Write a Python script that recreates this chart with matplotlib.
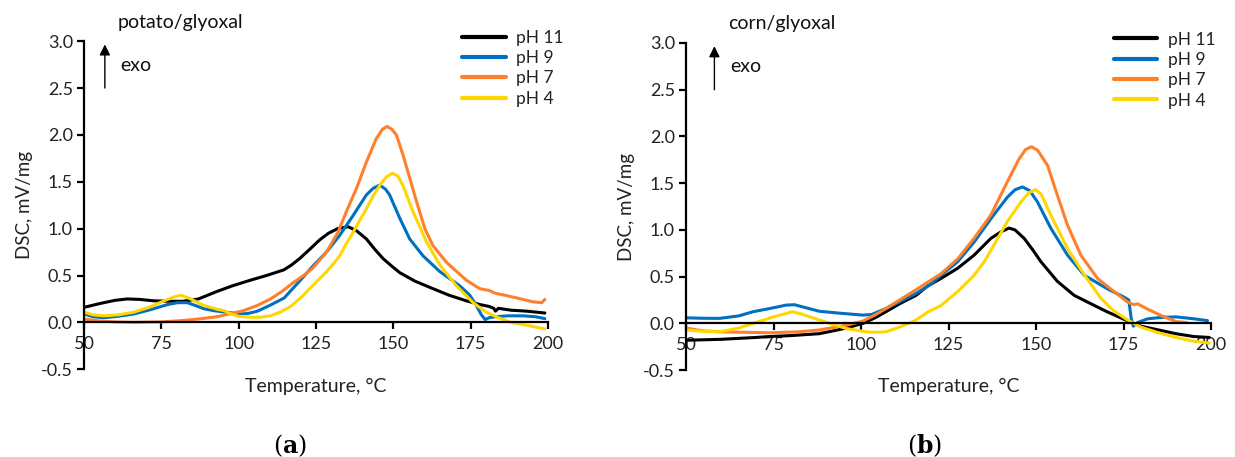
import matplotlib
matplotlib.use("Agg")
import matplotlib.pyplot as plt

plt.rcParams['font.family'] = ['Lato', 'DejaVu Sans']
plt.rcParams['mathtext.fontset'] = 'dejavuserif'

# ---- data: panel (a) potato/glyoxal ----
a_ph11_T = [50, 55, 60, 64, 68, 72.5, 78, 82, 87, 93, 98, 103.8, 109, 114.6, 117, 119.7, 123, 126.2, 129, 132, 135.4, 138, 141.3, 144, 146.7, 149.5, 152.1, 157, 162.8, 168, 173.6, 178, 181, 182.5, 183, 184, 188, 193, 199]
a_ph11_y = [0.16, 0.20, 0.235, 0.25, 0.245, 0.23, 0.225, 0.225, 0.25, 0.33, 0.39, 0.45, 0.50, 0.56, 0.61, 0.68, 0.78, 0.88, 0.95, 1.00, 1.02, 0.98, 0.89, 0.78, 0.68, 0.60, 0.53, 0.44, 0.36, 0.29, 0.23, 0.19, 0.17, 0.15, 0.12, 0.15, 0.13, 0.12, 0.10]

a_ph9_T = [50, 53, 56.5, 61, 66.2, 72, 77, 80.2, 83.4, 86, 88.8, 92, 95.3, 100.7, 103, 106.1, 110, 114.7, 119.7, 124, 128.4, 132.7, 137, 141.3, 143.5, 145.6, 147.5, 148.8, 152.1, 155.3, 159.6, 165.1, 171.5, 174.7, 176.5, 178.5, 179.7, 181, 183, 187, 192, 196, 199]
a_ph9_y = [0.09, 0.06, 0.05, 0.065, 0.09, 0.14, 0.19, 0.21, 0.21, 0.18, 0.145, 0.125, 0.11, 0.09, 0.095, 0.12, 0.18, 0.26, 0.44, 0.60, 0.75, 0.93, 1.14, 1.36, 1.43, 1.465, 1.42, 1.36, 1.11, 0.89, 0.71, 0.54, 0.39, 0.29, 0.20, 0.08, 0.03, 0.05, 0.06, 0.07, 0.07, 0.06, 0.04]

a_ph7_T = [50, 55, 60, 66, 75, 82, 88, 93, 97, 101.6, 106, 110.3, 114, 117.9, 121, 124, 128.4, 132.1, 134.8, 138.1, 141.3, 144.5, 146.5, 148, 149.5, 151, 153.1, 155.3, 157.5, 160.2, 162.8, 167.2, 173.6, 177.9, 181, 183, 186, 190, 195, 198, 199]
a_ph7_y = [0.036, 0.015, 0.005, 0.0, 0.005, 0.02, 0.04, 0.06, 0.09, 0.125, 0.18, 0.25, 0.33, 0.43, 0.50, 0.58, 0.75, 0.96, 1.18, 1.43, 1.71, 1.96, 2.06, 2.09, 2.06, 2.00, 1.79, 1.54, 1.29, 1.00, 0.82, 0.64, 0.45, 0.36, 0.34, 0.31, 0.29, 0.26, 0.22, 0.21, 0.245]

a_ph4_T = [50, 53, 56.5, 61, 66.2, 71, 75.9, 79, 81.3, 84.5, 88.8, 93.1, 95.3, 97.4, 100, 103.9, 107, 110.3, 113.5, 116.8, 120, 123, 126, 128.4, 130.5, 132.7, 134.8, 137, 139, 141.3, 143.5, 145.6, 147.7, 149.7, 151.5, 153.1, 156.4, 160.7, 165.1, 170.4, 175.8, 180, 184, 188, 193, 199]
a_ph4_y = [0.11, 0.08, 0.07, 0.08, 0.11, 0.16, 0.23, 0.27, 0.29, 0.25, 0.18, 0.14, 0.125, 0.09, 0.065, 0.054, 0.055, 0.07, 0.11, 0.17, 0.26, 0.36, 0.46, 0.54, 0.62, 0.71, 0.84, 0.96, 1.08, 1.21, 1.35, 1.46, 1.55, 1.59, 1.56, 1.46, 1.18, 0.86, 0.61, 0.39, 0.21, 0.11, 0.05, 0.0, -0.03, -0.07]

# ---- data: panel (b) corn/glyoxal ----
b_ph11_T = [50, 60, 70, 74, 80, 88, 92, 95.7, 100.5, 104, 107.1, 111, 115.7, 119, 122.8, 127.6, 132.3, 137.1, 140, 142.3, 144, 146.6, 149, 151.4, 156.1, 160.9, 165.7, 170, 173, 176, 178, 180, 185, 190, 195, 199.5]
b_ph11_y = [-0.18, -0.17, -0.15, -0.14, -0.13, -0.11, -0.08, -0.05, 0.0, 0.06, 0.125, 0.21, 0.30, 0.40, 0.48, 0.59, 0.73, 0.91, 0.98, 1.02, 1.00, 0.91, 0.79, 0.66, 0.45, 0.30, 0.21, 0.13, 0.08, 0.03, 0.0, -0.03, -0.07, -0.11, -0.14, -0.15]

b_ph9_T = [50, 55, 59.6, 65, 69.1, 74, 78.6, 81, 84, 88.1, 93.8, 97, 100.5, 103, 107.1, 111, 115.7, 120, 123, 127.6, 132.3, 137.1, 141.8, 144, 146.1, 148.2, 150.4, 154.2, 159, 163.8, 170.4, 175.2, 176.5, 177.2, 177.8, 179, 182, 186, 190, 195, 199]
b_ph9_y = [0.06, 0.055, 0.054, 0.08, 0.125, 0.16, 0.196, 0.20, 0.17, 0.13, 0.11, 0.10, 0.089, 0.095, 0.16, 0.23, 0.32, 0.42, 0.52, 0.66, 0.87, 1.12, 1.35, 1.43, 1.46, 1.42, 1.30, 1.02, 0.73, 0.515, 0.37, 0.28, 0.25, 0.05, -0.03, 0.01, 0.05, 0.065, 0.07, 0.05, 0.03]

b_ph7_T = [50, 55, 60, 74, 82, 88.1, 95.7, 100.5, 104, 107.1, 111, 115.7, 119, 122.8, 127.6, 132.3, 137.1, 141.8, 145, 147, 148.7, 150.5, 153.3, 156.1, 159, 162.8, 167.6, 172.3, 176.1, 178, 179, 182, 186, 190, 193]
b_ph7_y = [-0.05, -0.08, -0.09, -0.10, -0.09, -0.07, -0.02, 0.025, 0.09, 0.16, 0.25, 0.36, 0.44, 0.53, 0.69, 0.91, 1.16, 1.515, 1.75, 1.86, 1.89, 1.85, 1.69, 1.37, 1.05, 0.73, 0.48, 0.34, 0.23, 0.20, 0.21, 0.15, 0.08, 0.02, 0.01]

b_ph4_T = [50, 55, 59.6, 65, 69.1, 75, 80.5, 83, 88.1, 92, 95.7, 101.5, 104, 107.1, 111, 115.7, 119, 122.8, 127.6, 132.3, 135.2, 138, 141.8, 145.7, 148, 149.9, 151.5, 154.2, 159, 163.8, 168.5, 172, 176, 180, 185, 190, 195, 199.5]
b_ph4_y = [-0.07, -0.085, -0.09, -0.05, 0.0, 0.07, 0.125, 0.10, 0.036, -0.01, -0.054, -0.09, -0.095, -0.09, -0.04, 0.036, 0.12, 0.19, 0.34, 0.515, 0.66, 0.84, 1.09, 1.30, 1.40, 1.43, 1.38, 1.16, 0.80, 0.52, 0.27, 0.14, 0.04, -0.04, -0.10, -0.15, -0.19, -0.21]

labels = ['pH 11', 'pH 9', 'pH 7', 'pH 4']
colors = ['#000000', '#0070C0', '#FF7F2A', '#FFD700']
x_ticks = [50, 75, 100, 125, 150, 175, 200]
y_ticks = [-0.5, 0.0, 0.5, 1.0, 1.5, 2.0, 2.5, 3.0]

panels = [
    dict(title='potato/glyoxal', tag='a', rect=[0.068, 0.192, 0.3757, 0.718],
         tx=0.073, ax_=0.045, lx=0.444,
         series=[(a_ph11_T, a_ph11_y), (a_ph9_T, a_ph9_y), (a_ph7_T, a_ph7_y), (a_ph4_T, a_ph4_y)]),
    dict(title='corn/glyoxal', tag='b', rect=[0.5555, 0.19, 0.4251, 0.716],
         tx=0.080, ax_=0.054, lx=0.455,
         series=[(b_ph11_T, b_ph11_y), (b_ph9_T, b_ph9_y), (b_ph7_T, b_ph7_y), (b_ph4_T, b_ph4_y)]),
]

fig = plt.figure(figsize=(12.35, 4.57), dpi=100)
for p in panels:
    ax = fig.add_axes(p['rect'])
    handles = []
    for (T, y), lab, c in zip(p['series'], labels, colors):
        h, = ax.plot(T, y, color=c, lw=2.2, label=lab, solid_capstyle='round')
        handles.append(h)
    ax.set_xlim(50, 200)
    ax.set_ylim(-0.5, 3.0)
    ax.spines['top'].set_visible(False)
    ax.spines['right'].set_visible(False)
    ax.spines['bottom'].set_position(('data', 0))
    ax.spines['bottom'].set_linewidth(1.6)
    ax.spines['left'].set_linewidth(1.6)
    ax.set_xticks(x_ticks)
    ax.set_yticks(y_ticks)
    ax.set_yticklabels([f'{v:.1f}' for v in y_ticks])
    ax.tick_params(axis='both', direction='out', length=5, width=1.6, labelsize=13,
                   colors='black', labelcolor='#222222')
    ax.tick_params(axis='x', pad=5)
    ax.tick_params(axis='y', pad=3)
    ax.set_xlabel('Temperature, °C', fontsize=14, color='#222222')
    ax.set_ylabel('DSC, mV/mg', fontsize=13.5, color='#222222', labelpad=6)
    ax.xaxis.set_label_coords(0.5, -0.025)
    leg = ax.legend(handles=handles, loc='upper left', bbox_to_anchor=(0.815, 1.035),
                    frameon=False, fontsize=12.5, handlelength=2.5, handletextpad=0.6,
                    labelspacing=0.25, borderaxespad=0, borderpad=0,
                    labelcolor='#222222')
    for ln in leg.get_lines():
        ln.set_linewidth(3.0)
    ax.text(p['tx'], 1.058, p['title'], transform=ax.transAxes, fontsize=14,
            ha='left', va='center', color='#111111')
    ax.text(p['tx'] + 0.005, 0.927, 'exo', transform=ax.transAxes, fontsize=14,
            ha='left', va='center', color='#111111')
    ax.annotate('', xy=(p['ax_'], 0.99), xycoords='axes fraction',
                xytext=(p['ax_'], 0.857), textcoords='axes fraction',
                arrowprops=dict(arrowstyle='-|>', color='black', lw=1.0,
                                mutation_scale=16, shrinkA=0, shrinkB=0))
    ax.text(p['lx'], -0.232, r'($\mathbf{' + p['tag'] + '}$)', transform=ax.transAxes,
            fontsize=17, ha='center', va='center', family='DejaVu Serif')

fig.savefig('out.png', dpi=100)
